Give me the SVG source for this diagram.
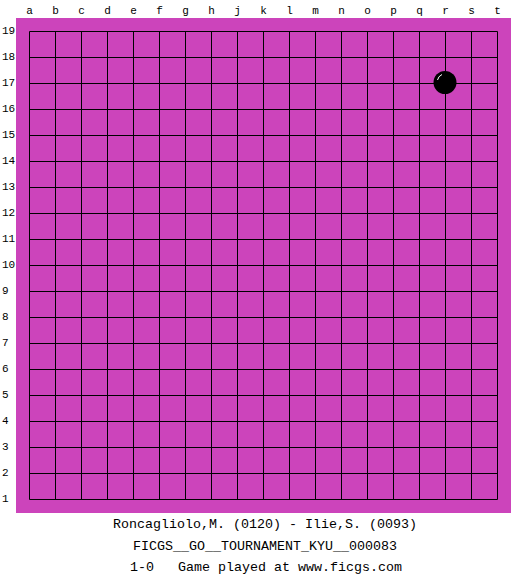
<svg xmlns="http://www.w3.org/2000/svg" width="525" height="575" viewBox="0 0 525 575">
<style>
.lbl{font-family:"Liberation Mono","DejaVu Sans Mono",monospace;font-size:11px;fill:#000}
.col{text-anchor:middle}
.info{font-family:"Liberation Mono","DejaVu Sans Mono",monospace;font-size:13.33px;fill:#000;text-anchor:middle;white-space:pre}
.grid line{stroke:#000;stroke-width:1}
</style>
<rect x="0" y="0" width="525" height="575" fill="#fff"/>
<g id="board">
<rect x="16" y="18" width="495" height="495" fill="#CC44BB"/>
</g>
<g id="connectors" class="grid">
<line x1="29.5" y1="31.5" x2="29.5" y2="499.5"/><line x1="55.5" y1="31.5" x2="55.5" y2="499.5"/><line x1="81.5" y1="31.5" x2="81.5" y2="499.5"/><line x1="107.5" y1="31.5" x2="107.5" y2="499.5"/><line x1="133.5" y1="31.5" x2="133.5" y2="499.5"/><line x1="159.5" y1="31.5" x2="159.5" y2="499.5"/><line x1="185.5" y1="31.5" x2="185.5" y2="499.5"/><line x1="211.5" y1="31.5" x2="211.5" y2="499.5"/><line x1="237.5" y1="31.5" x2="237.5" y2="499.5"/><line x1="263.5" y1="31.5" x2="263.5" y2="499.5"/><line x1="289.5" y1="31.5" x2="289.5" y2="499.5"/><line x1="315.5" y1="31.5" x2="315.5" y2="499.5"/><line x1="341.5" y1="31.5" x2="341.5" y2="499.5"/><line x1="367.5" y1="31.5" x2="367.5" y2="499.5"/><line x1="393.5" y1="31.5" x2="393.5" y2="499.5"/><line x1="419.5" y1="31.5" x2="419.5" y2="499.5"/><line x1="445.5" y1="31.5" x2="445.5" y2="499.5"/><line x1="471.5" y1="31.5" x2="471.5" y2="499.5"/><line x1="497.5" y1="31.5" x2="497.5" y2="499.5"/>
<line x1="29.5" y1="31.5" x2="497.5" y2="31.5"/><line x1="29.5" y1="57.5" x2="497.5" y2="57.5"/><line x1="29.5" y1="83.5" x2="497.5" y2="83.5"/><line x1="29.5" y1="109.5" x2="497.5" y2="109.5"/><line x1="29.5" y1="135.5" x2="497.5" y2="135.5"/><line x1="29.5" y1="161.5" x2="497.5" y2="161.5"/><line x1="29.5" y1="187.5" x2="497.5" y2="187.5"/><line x1="29.5" y1="213.5" x2="497.5" y2="213.5"/><line x1="29.5" y1="239.5" x2="497.5" y2="239.5"/><line x1="29.5" y1="265.5" x2="497.5" y2="265.5"/><line x1="29.5" y1="291.5" x2="497.5" y2="291.5"/><line x1="29.5" y1="317.5" x2="497.5" y2="317.5"/><line x1="29.5" y1="343.5" x2="497.5" y2="343.5"/><line x1="29.5" y1="369.5" x2="497.5" y2="369.5"/><line x1="29.5" y1="395.5" x2="497.5" y2="395.5"/><line x1="29.5" y1="421.5" x2="497.5" y2="421.5"/><line x1="29.5" y1="447.5" x2="497.5" y2="447.5"/><line x1="29.5" y1="473.5" x2="497.5" y2="473.5"/><line x1="29.5" y1="499.5" x2="497.5" y2="499.5"/>
</g>
<g id="stone-r17">
<circle cx="445" cy="82.5" r="11.5" fill="#000"/>
<path d="M437.5,80 A8,8 0 0 1 442,74.5" fill="none" stroke="#fff" stroke-width="1"/>
</g>
<g id="col-labels" class="lbl col">
<text x="29.5" y="14">a</text><text x="55.5" y="14">b</text><text x="81.5" y="14">c</text><text x="107.5" y="14">d</text><text x="133.5" y="14">e</text><text x="159.5" y="14">f</text><text x="185.5" y="14">g</text><text x="211.5" y="14">h</text><text x="237.5" y="14">j</text><text x="263.5" y="14">k</text><text x="289.5" y="14">l</text><text x="315.5" y="14">m</text><text x="341.5" y="14">n</text><text x="367.5" y="14">o</text><text x="393.5" y="14">p</text><text x="419.5" y="14">q</text><text x="445.5" y="14">r</text><text x="471.5" y="14">s</text><text x="497.5" y="14">t</text>
</g>
<g id="row-labels" class="lbl">
<text x="2" y="34">19</text><text x="2" y="60">18</text><text x="2" y="86">17</text><text x="2" y="112">16</text><text x="2" y="138">15</text><text x="2" y="164">14</text><text x="2" y="190">13</text><text x="2" y="216">12</text><text x="2" y="242">11</text><text x="2" y="268">10</text><text x="2" y="294">9</text><text x="2" y="320">8</text><text x="2" y="346">7</text><text x="2" y="372">6</text><text x="2" y="398">5</text><text x="2" y="424">4</text><text x="2" y="450">3</text><text x="2" y="476">2</text><text x="2" y="502">1</text>
</g>
<g id="info" class="info">
<text x="265" y="528">Roncagliolo,M. (0120) - Ilie,S. (0093)</text>
<text x="265" y="550">FICGS__GO__TOURNAMENT_KYU__000083</text>
<text x="266" y="571" xml:space="preserve">1-0   Game played at www.ficgs.com</text>
</g>
</svg>
